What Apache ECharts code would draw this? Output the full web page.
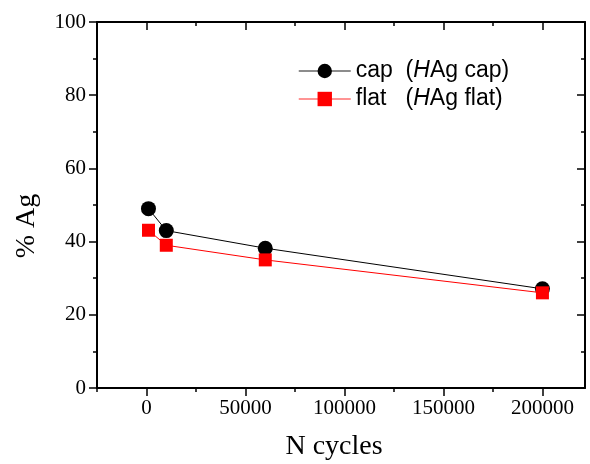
<!DOCTYPE html>
<html>
<head>
<meta charset="utf-8">
<script src="https://cdn.jsdelivr.net/npm/echarts@6/dist/echarts.min.js"></script>
<style>html,body{margin:0;padding:0;background:#fff}#c{width:590px;height:464px}</style>
</head>
<body>
<div id="c"></div>
<script>
var cycles = [1000, 10000, 60000, 200000];
var capValues = [49, 43, 38.2, 27.1];
var flatValues = [43.1, 39, 35, 26];
var xMajorTicks = [0, 50000, 100000, 150000, 200000];
var xMinorTicks = [-25000, 25000, 75000, 125000, 175000];
var yTicks = [0, 20, 40, 60, 80, 100];
var seriesNames = ['cap', 'flat'];
var legendLabels = { cap: 'cap  (', flat: 'flat   (' };
var legendTails = { cap: 'Ag cap)', flat: 'Ag flat)' };

var XMIN = -25000, XMAX = 221500;
var serif = 'Liberation Serif, Times New Roman, serif';
var sans = 'Liberation Sans, Arial, sans-serif';

function pairs(xs, ys) { return xs.map(function (x, i) { return [x, ys[i]]; }); }

function xAxisDef(pos, ticks, len, inside, showLine, showLabel) {
  return {
    type: 'value', min: XMIN, max: XMAX, splitLine: { show: false },
    position: pos,
    axisLine: { show: showLine, onZero: false, lineStyle: { color: '#000', width: 2 } },
    axisTick: { show: true, inside: inside, length: len, customValues: ticks, lineStyle: { color: '#000', width: 1.5 } },
    axisLabel: { show: showLabel, customValues: ticks, margin: 10, color: '#000', fontFamily: serif, fontSize: 21,
      formatter: function (v) { return String(v); } }
  };
}
function yAxisDef(pos, inside, showLabel) {
  return {
    type: 'value', position: pos, min: yTicks[0], max: yTicks[yTicks.length - 1], interval: 20,
    splitLine: { show: false },
    axisLine: { show: true, onZero: false, lineStyle: { color: '#000', width: 2 } },
    axisTick: { show: true, inside: inside, length: 8, lineStyle: { color: '#000', width: 1.5 } },
    minorTick: { show: true, splitNumber: 2, length: 4, lineStyle: { color: '#000', width: 1.5 } },
    axisLabel: { show: showLabel, margin: 11, color: '#000', fontFamily: serif, fontSize: 21 }
  };
}

var chart = echarts.init(document.getElementById('c'), null, { renderer: 'canvas' });
chart.setOption({
  animation: false,
  backgroundColor: '#fff',
  grid: { left: 97, right: 5, top: 22, bottom: 76, containLabel: false },
  xAxis: [
    xAxisDef('bottom', xMajorTicks, 8, false, true, true),
    xAxisDef('bottom', xMinorTicks, 4, false, false, false),
    xAxisDef('top', xMajorTicks, 8, true, true, false),
    xAxisDef('top', xMinorTicks, 4, true, false, false)
  ],
  yAxis: [
    yAxisDef('left', false, true),
    yAxisDef('right', true, false)
  ],
  legend: {
    orient: 'vertical', left: 293, top: 54,
    itemWidth: 52, itemHeight: 18, itemGap: 4,
    data: [
      { name: seriesNames[0], lineStyle: { color: '#666', width: 1.5 } },
      { name: seriesNames[1], lineStyle: { color: '#ff7070', width: 1.5 } }
    ],
    formatter: function (name) {
      return '{n|' + legendLabels[name] + '}{i|H}{n|' + legendTails[name] + '}';
    },
    textStyle: {
      color: '#000', fontFamily: sans, fontSize: 23, lineHeight: 24,
      rich: {
        n: { color: '#000', fontFamily: sans, fontSize: 23, lineHeight: 24 },
        i: { color: '#000', fontFamily: sans, fontSize: 23, lineHeight: 24, fontStyle: 'italic' }
      }
    }
  },
  graphic: [
    { type: 'text', style: { text: 'N cycles', x: 334, y: 447, fontFamily: serif, fontSize: 28, fill: '#000', textAlign: 'center', textVerticalAlign: 'middle' } },
    { type: 'text', x: 27, y: 226, rotation: Math.PI / 2, style: { text: '% Ag', x: 0, y: 0, fontFamily: serif, fontSize: 28, fill: '#000', textAlign: 'center', textVerticalAlign: 'middle' } }
  ],
  series: [
    {
      name: seriesNames[0], type: 'line', data: pairs(cycles, capValues),
      xAxisIndex: 0, yAxisIndex: 0,
      symbol: 'circle', symbolSize: 15,
      itemStyle: { color: '#000' }, lineStyle: { color: '#000', width: 1 }, z: 3
    },
    {
      name: seriesNames[1], type: 'line', data: pairs(cycles, flatValues),
      xAxisIndex: 0, yAxisIndex: 0,
      symbol: 'rect', symbolSize: 13,
      itemStyle: { color: '#ff0000' }, lineStyle: { color: '#ff0000', width: 1 }, z: 4
    }
  ]
});
</script>
</body>
</html>
